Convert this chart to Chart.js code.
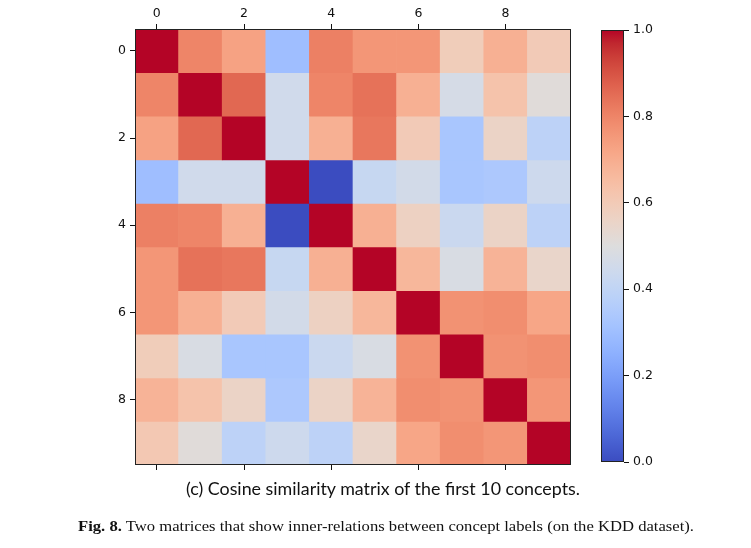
<!DOCTYPE html>
<html>
<head>
<meta charset="utf-8">
<script src="https://cdn.jsdelivr.net/npm/chart.js@4"></script>
<style>
  html, body { margin: 0; padding: 0; background: #fff; width: 751px; height: 548px; overflow: hidden; }
  #heat { position: absolute; left: 0; top: 0; }
  #cbar { position: absolute; left: 590px; top: 0; }
  .cap { position: absolute; white-space: nowrap; color: #111; transform-origin: 0 0; }
  #sub { left: 186px; top: 477px; font: 18px Lato, "DejaVu Sans", sans-serif; }
  #fig { left: 78px; top: 518px; font: 15px "Liberation Serif", "DejaVu Serif", serif; }
</style>
</head>
<body>
<canvas id="heat" width="590" height="548"></canvas>
<canvas id="cbar" width="161" height="548"></canvas>
<div class="cap" id="sub" data-w="394">(c) Cosine similarity matrix of the first 10 concepts.</div>
<div class="cap" id="fig" data-w="616"><b>Fig. 8.</b> Two matrices that show inner-relations between concept labels (on the KDD dataset).</div>
<script>
// concept indices (rows and columns)
const concepts = ['0', '1', '2', '3', '4', '5', '6', '7', '8', '9'];
const axisTicks = [0, 2, 4, 6, 8];
const cbarTicks = [0, 0.2, 0.4, 0.6, 0.8, 1.0];

// cosine similarity
const sim = [
  [1.00, 0.80, 0.73, 0.30, 0.81, 0.76, 0.76, 0.59, 0.69, 0.60],
  [0.80, 1.00, 0.86, 0.45, 0.80, 0.84, 0.69, 0.47, 0.63, 0.51],
  [0.73, 0.86, 1.00, 0.45, 0.69, 0.83, 0.60, 0.33, 0.56, 0.39],
  [0.30, 0.45, 0.45, 1.00, 0.00, 0.42, 0.46, 0.33, 0.34, 0.44],
  [0.81, 0.80, 0.69, 0.00, 1.00, 0.69, 0.57, 0.43, 0.56, 0.39],
  [0.76, 0.84, 0.83, 0.42, 0.69, 1.00, 0.67, 0.48, 0.68, 0.55],
  [0.76, 0.69, 0.60, 0.46, 0.57, 0.67, 1.00, 0.77, 0.78, 0.72],
  [0.59, 0.48, 0.33, 0.33, 0.43, 0.48, 0.77, 1.00, 0.77, 0.78],
  [0.68, 0.63, 0.56, 0.34, 0.56, 0.68, 0.78, 0.77, 1.00, 0.76],
  [0.61, 0.51, 0.39, 0.44, 0.39, 0.55, 0.72, 0.78, 0.76, 1.00]
];

// matplotlib coolwarm, 33 steps
const CW = [
  [59,76,192],[68,90,204],[77,104,215],[87,117,225],[98,130,234],[108,142,241],
  [119,154,247],[130,165,251],[141,176,254],[152,185,255],[163,194,255],[174,201,253],
  [184,208,249],[194,213,244],[204,217,238],[213,219,230],[221,221,221],[229,216,209],
  [236,211,197],[241,204,185],[245,196,173],[247,187,160],[247,177,148],[247,166,135],
  [244,154,123],[241,141,111],[236,127,99],[229,112,88],[222,96,77],[213,80,66],
  [203,62,56],[192,40,47],[180,4,38]
];
function coolwarm(v) {
  const t = Math.max(0, Math.min(1, v)) * (CW.length - 1);
  const i = Math.min(Math.floor(t), CW.length - 2), f = t - i;
  const c = CW[i].map((a, k) => Math.round(a + (CW[i + 1][k] - a) * f));
  return `rgb(${c[0]},${c[1]},${c[2]})`;
}

Chart.defaults.font.family = '"DejaVu Sans", sans-serif';
Chart.defaults.font.size = 12.5;
Chart.defaults.color = '#111';

// plain black frame round the plot area
const frame = {
  id: 'frame',
  afterDraw(chart) {
    const { ctx, chartArea: a } = chart;
    ctx.save();
    ctx.strokeStyle = '#222';
    ctx.lineWidth = 1;
    ctx.strokeRect(Math.round(a.left) + 0.5, Math.round(a.top) + 0.5,
      Math.round(a.right - a.left) - 1, Math.round(a.bottom - a.top) - 1);
    ctx.restore();
  }
};

const evenTick = ctx => (ctx.index % 2 ? 'rgba(0,0,0,0)' : '#111');

new Chart(document.getElementById('heat'), {
  type: 'bar',
  data: {
    labels: concepts,
    datasets: sim.map((row, r) => ({
      data: row.map(() => [r - 0.5, r + 0.5]),
      backgroundColor: row.map(coolwarm),
      borderWidth: 0,
      barPercentage: 1,
      categoryPercentage: 1,
      grouped: false
    }))
  },
  options: {
    responsive: false,
    animation: false,
    layout: { padding: { left: 0, top: 0, right: 19, bottom: 0 } },
    plugins: { legend: { display: false }, tooltip: { enabled: false } },
    scales: {
      x: {
        position: 'top',
        offset: true,
        border: { display: false },
        grid: { offset: false, drawOnChartArea: false, tickLength: 5, tickColor: evenTick },
        ticks: { autoSkip: false, maxRotation: 0, padding: 3, callback: (v, i) => (i % 2 ? '' : concepts[i]) },
        afterFit: s => { s.height = 29; }
      },
      xb: {
        type: 'category',
        labels: concepts,
        position: 'bottom',
        offset: true,
        border: { display: false },
        grid: { offset: false, drawOnChartArea: false, tickLength: 5, tickColor: evenTick },
        ticks: { autoSkip: false, callback: () => '' },
        afterFit: s => { s.height = 83; }
      },
      y: {
        position: 'left',
        reverse: true,
        min: -0.5,
        max: 9.5,
        border: { display: false },
        grid: { drawOnChartArea: false, tickLength: 5, tickColor: '#111' },
        ticks: { padding: 4, callback: v => String(v) },
        afterBuildTicks: s => { s.ticks = axisTicks.map(v => ({ value: v })); },
        afterFit: s => { s.width = 135; }
      }
    }
  },
  plugins: [frame]
});

new Chart(document.getElementById('cbar'), {
  type: 'bar',
  data: {
    labels: [''],
    datasets: [{
      data: [[0, 1]],
      borderWidth: 0,
      barPercentage: 1,
      categoryPercentage: 1,
      backgroundColor: ctx => {
        const a = ctx.chart.chartArea;
        if (!a) return coolwarm(0.5);
        const g = ctx.chart.ctx.createLinearGradient(0, a.bottom, 0, a.top);
        CW.forEach((c, i) => g.addColorStop(i / (CW.length - 1), `rgb(${c[0]},${c[1]},${c[2]})`));
        return g;
      }
    }]
  },
  options: {
    responsive: false,
    animation: false,
    layout: { padding: { left: 11, top: 30, right: 0, bottom: 86 } },
    plugins: { legend: { display: false }, tooltip: { enabled: false } },
    scales: {
      x: { display: false },
      y: {
        position: 'right',
        min: 0,
        max: 1,
        border: { display: false },
        grid: { drawOnChartArea: false, tickLength: 5, tickColor: '#111' },
        ticks: { padding: 4, callback: v => v.toFixed(1) },
        afterBuildTicks: s => { s.ticks = cbarTicks.map(v => ({ value: v })); },
        afterFit: s => { s.width = 127; }
      }
    }
  },
  plugins: [frame]
});

// squeeze the captions to the width they have in the figure
document.querySelectorAll('.cap').forEach(el => {
  const w = el.getBoundingClientRect().width;
  el.style.transform = `scaleX(${(+el.dataset.w / w).toFixed(4)})`;
});
</script>
</body>
</html>
